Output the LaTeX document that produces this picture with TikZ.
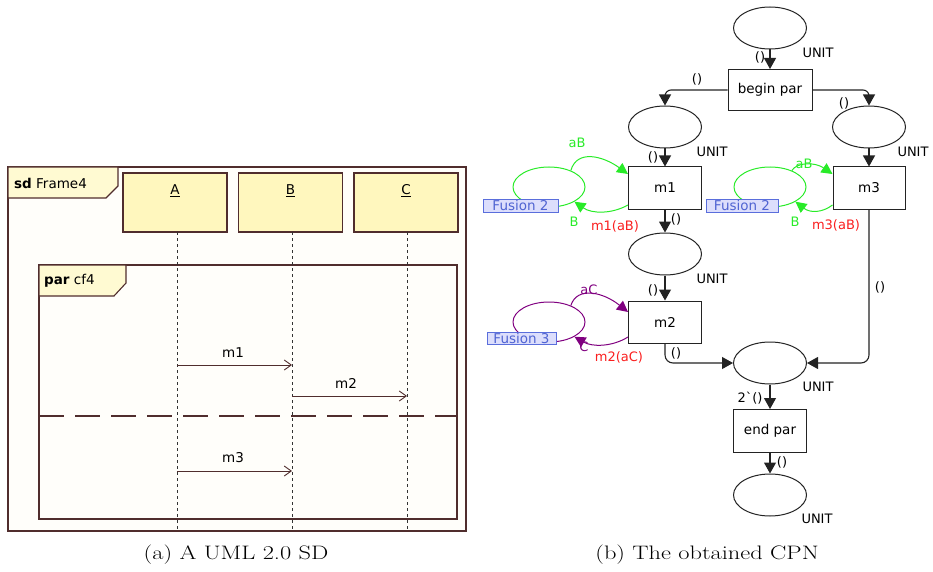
\documentclass[tikz,border=0pt]{standalone}
\usepackage{fontspec}
\newfontfamily\cpnfont{DejaVu Sans}
\newfontfamily\umlfont{DejaVu Sans}
\usetikzlibrary{arrows.meta,shapes.geometric,calc}
\definecolor{umlbrown}{RGB}{80,45,45}
\definecolor{lifefill}{RGB}{255,247,190}
\definecolor{labfill}{RGB}{255,250,210}
\definecolor{framefill}{RGB}{255,254,250}
\definecolor{cpngreen}{RGB}{40,235,40}
\definecolor{cpnpurple}{RGB}{128,0,128}
\definecolor{cpnred}{RGB}{250,30,30}
\definecolor{fusfill}{RGB}{220,222,252}
\definecolor{fusdraw}{RGB}{90,110,220}
\definecolor{fustext}{RGB}{80,100,210}
\definecolor{cpnline}{RGB}{35,35,35}
\begin{document}
\begin{tikzpicture}[x=1pt,y=-1pt,
  umlline/.style={draw=umlbrown,line width=1.1pt},
  lifebox/.style={draw=umlbrown,line width=1.1pt,fill=lifefill,minimum width=104pt,minimum height=59pt,inner sep=0pt},
  lifeline/.style={draw=black!80,line width=1pt,dash pattern=on 3pt off 3pt},
  msg/.style={draw=umlbrown,line width=0.9pt,-{Straight Barb[length=7pt,width=10pt]}},
  umltext/.style={font=\umlfont\fontsize{13.5}{15}\selectfont,text=black,inner sep=0pt},
  place/.style={ellipse,draw=cpnline,line width=1pt,minimum width=73pt,minimum height=42pt,inner sep=0pt},
  fplace/.style={ellipse,line width=1pt,minimum width=72pt,minimum height=40pt,inner sep=0pt},
  trans/.style={rectangle,draw=cpnline,line width=1pt,minimum width=73pt,minimum height=42pt,inner sep=0pt,font=\cpnfont\fontsize{13.5}{15}\selectfont},
  parc/.style={draw=cpnline,line width=1.1pt,-{Triangle[length=11pt,width=12pt]}},
  larc/.style={line width=1pt,-{Triangle[length=11pt,width=11pt]}},
  lab/.style={font=\cpnfont\fontsize{13}{15}\selectfont,inner sep=0pt},
  fusion/.style={rectangle,draw=fusdraw,fill=fusfill,line width=0.9pt,minimum height=13pt,inner sep=0pt,text=fustext,font=\cpnfont\fontsize{13.5}{15}\selectfont},
  captext/.style={font=\fontsize{19.5}{23}\selectfont,anchor=base,inner sep=0pt}
]
\useasboundingbox (0,0) rectangle (933,572);

% ---------------- UML sequence diagram ----------------
\draw[draw=umlbrown,line width=1.8pt,fill=framefill] (8,167) rectangle (466,531);
\draw[umlline,fill=labfill] (8,167) -- (118,167) -- (118,186) -- (106,198) -- (8,198) -- cycle;
\node[umltext,anchor=west] (sdlab) at (14,183) {\textbf{sd} Frame4};

\node[lifebox] (A) at (175,202.5) {};
\node[lifebox] (B) at (290.5,202.5) {};
\node[lifebox] (C) at (406,202.5) {};
\node[umltext] (Alab) at (175,191) {\underline{A}};
\node[umltext] (Blab) at (290.5,191) {\underline{B}};
\node[umltext] (Clab) at (406,191) {\underline{C}};

\draw[umlline] (39,265) rectangle (457,519);
\draw[umlline,fill=labfill] (39,265) -- (126,265) -- (126,283) -- (114,296) -- (39,296) -- cycle;
\node[umltext,anchor=west] (parlab) at (44,281) {\textbf{par} cf4};

\coordinate (Atop) at (177,232); \coordinate (Abot) at (177,531);
\coordinate (Btop) at (292,232); \coordinate (Bbot) at (292,531);
\coordinate (Ctop) at (407,232); \coordinate (Cbot) at (407,531);
\draw[lifeline] (Atop) -- (Abot);
\draw[lifeline] (Btop) -- (Bbot);
\draw[lifeline] (Ctop) -- (Cbot);

\coordinate (sepL) at (39,416); \coordinate (sepR) at (457,416);
\draw[draw=umlbrown,line width=1.2pt,dash pattern=on 25pt off 11pt] (sepL) -- (sepR);

\coordinate (m1s) at (177,365); \coordinate (m1e) at (292,365);
\coordinate (m2s) at (292,396); \coordinate (m2e) at (407,396);
\coordinate (m3s) at (177,471); \coordinate (m3e) at (292,471);
\draw[msg] (m1s) -- (m1e);
\draw[msg] (m2s) -- (m2e);
\draw[msg] (m3s) -- (m3e);
\node[umltext] (m1lab) at (233,353) {m1};
\node[umltext] (m2lab) at (346,383) {m2};
\node[umltext] (m3lab) at (233,458) {m3};

\node[captext] (capa) at (236,559) {\scalebox{1.25}[1]{(a) A UML 2.0 SD}};

% ---------------- CPN ----------------
\node[place] (p0) at (770,28) {};
\node[trans,minimum width=84pt,minimum height=41pt] (tb) at (770,90) {begin par};
\node[place] (pL) at (665,127) {};
\node[place] (pR) at (869,127) {};
\node[trans] (tm1) at (665,188) {m1};
\node[trans,minimum width=72pt] (tm3) at (869,188) {m3};
\node[place] (pM) at (665,254) {};
\node[trans] (tm2) at (665,322) {m2};
\node[place] (pJ) at (770,363) {};
\node[trans,minimum height=43pt] (te) at (770,431) {end par};
\node[place] (pF) at (770,495) {};

\draw[parc] (p0) -- (tb);
\draw[parc,rounded corners=6pt] (tb.west) -| (pL.north);
\draw[parc,rounded corners=6pt] (tb.east) -| (pR.north);
\draw[parc] (pL) -- (tm1);
\draw[parc] (pR) -- (tm3);
\draw[parc] (tm1) -- (pM);
\draw[parc] (pM) -- (tm2);
\draw[parc,rounded corners=8pt] (tm2.south) |- (pJ.west);
\draw[parc,rounded corners=8pt] (tm3.south) |- (pJ.east);
\draw[parc] (pJ) -- (te);
\draw[parc] (te) -- (pF);

% fusion places and loops
\node[fplace,draw=cpngreen] (fL) at (549,187) {};
\node[fplace,draw=cpngreen] (fR) at (770,187) {};
\node[fplace,draw=cpnpurple] (f3) at (549,322) {};

\draw[larc,color=cpngreen] (fL.37) .. controls (577,149) and (603,156) .. ($(tm1.west)+(0,-14)$);
\draw[larc,color=cpngreen] ($(tm1.west)+(0,17)$) .. controls (612,214) and (592,214) .. (fL.-30);
\draw[larc,color=cpngreen] (fR.37) .. controls (797,162) and (815,162) .. ($(tm3.west)+(0,-14)$);
\draw[larc,color=cpngreen] ($(tm3.west)+(0,17)$) .. controls (822,213) and (810,213) .. (fR.-30);
\draw[larc,color=cpnpurple] (f3.37) .. controls (577,286) and (603,292) .. ($(tm2.west)+(0,-10)$);
\draw[larc,color=cpnpurple] ($(tm2.west)+(0,15)$) .. controls (612,347) and (592,347) .. (f3.-30);

\node[fusion,minimum width=75pt] (fus2L) at (520.5,205.5) {Fusion 2};
\node[fusion,minimum width=72pt] (fus2R) at (742,205.5) {Fusion 2};
\node[fusion,minimum width=69pt,minimum height=12pt] (fus3) at (521.5,338) {Fusion 3};

% arc inscriptions
\node[lab,text=cpngreen] (aB1) at (577,143) {aB};
\node[lab,text=cpngreen] (B1) at (574,222) {B};
\node[lab,text=cpnred] (m1aB) at (615,226) {m1(aB)};
\node[lab,text=cpngreen] (aB3) at (804,164) {aB};
\node[lab,text=cpngreen] (B3) at (795,222) {B};
\node[lab,text=cpnred] (m3aB) at (836,225) {m3(aB)};
\node[lab,text=cpnpurple] (aC) at (589,290) {aC};
\node[lab,text=cpnpurple] (Cl) at (584,347) {C};
\node[lab,text=cpnred] (m2aC) at (619,357) {m2(aC)};

\node[lab] (u1) at (760,57) {()};
\node[lab] (u2) at (697,79) {()};
\node[lab] (u3) at (844,103) {()};
\node[lab] (u4) at (653,157) {()};
\node[lab] (u5) at (676,219) {()};
\node[lab] (u6) at (653,290) {()};
\node[lab] (u7) at (676,353) {()};
\node[lab] (u8) at (880,287) {()};
\node[lab] (u9) at (750,398) {2`()};
\node[lab] (u10) at (782,462) {()};

\node[lab] (U0) at (818,53) {UNIT};
\node[lab] (UL) at (712,152) {UNIT};
\node[lab] (UR) at (913,152) {UNIT};
\node[lab] (UM) at (712,279) {UNIT};
\node[lab] (UJ) at (818,387) {UNIT};
\node[lab] (UF) at (817,519) {UNIT};

\node[captext] (capb) at (707,559) {\scalebox{1.25}[1]{(b) The obtained CPN}};
\end{tikzpicture}
\end{document}
